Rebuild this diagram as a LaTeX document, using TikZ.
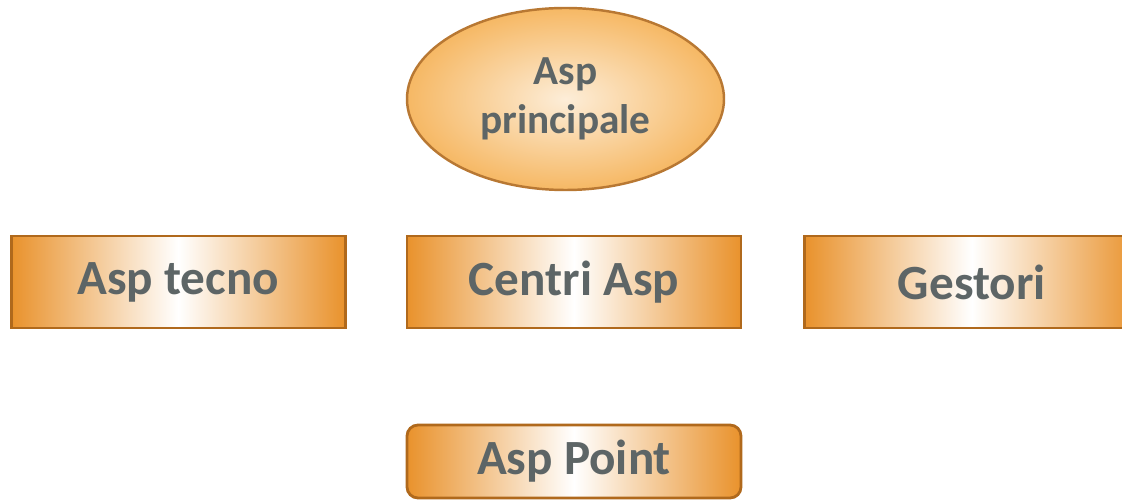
\documentclass[tikz,border=0pt]{standalone}
\usepackage{fontspec}
\setmainfont{Carlito}
\usepackage{tikz}
\usetikzlibrary{shapes.geometric, positioning}
\definecolor{aspgray}{HTML}{5D6566}
\definecolor{asporange}{HTML}{E9922C}
\definecolor{aspborder}{HTML}{B0691C}
\definecolor{asppeach}{HTML}{F6B864}
\tikzstyle{ovale} = [ellipse, minimum width=6.34cm, minimum height=3.64cm, align=center, draw=aspborder!90, line width=1.4pt, inner color=white!75!asppeach, outer color=asppeach, text=aspgray, font=\bfseries\fontsize{23.5}{28}\selectfont]
\tikzstyle{blocco} = [rectangle, minimum width=6.68cm, minimum height=1.84cm, text centered, draw=aspborder, line width=1.6pt, left color=asporange, right color=asporange, middle color=white, text=aspgray, font=\bfseries\fontsize{28}{32}\selectfont]
\tikzstyle{punto} = [blocco, rounded corners=0.22cm, minimum height=1.46cm]

\begin{document}
\begin{tikzpicture}
		\clip (0,0) rectangle (22.44,-10);
		\node (principale) [ovale] at (11.31,-1.98) {Asp\\principale};
		\node (centri) [blocco] at (11.48,-5.64) {Centri Asp};
		\node (tecno) [blocco, left=1.18cm of centri] {Asp tecno};
		\node (gestori) [blocco, right=1.22cm of centri] {Gestori};
		\node (point) [punto] at (11.48,-9.23) {Asp Point};
\end{tikzpicture}
\end{document}
